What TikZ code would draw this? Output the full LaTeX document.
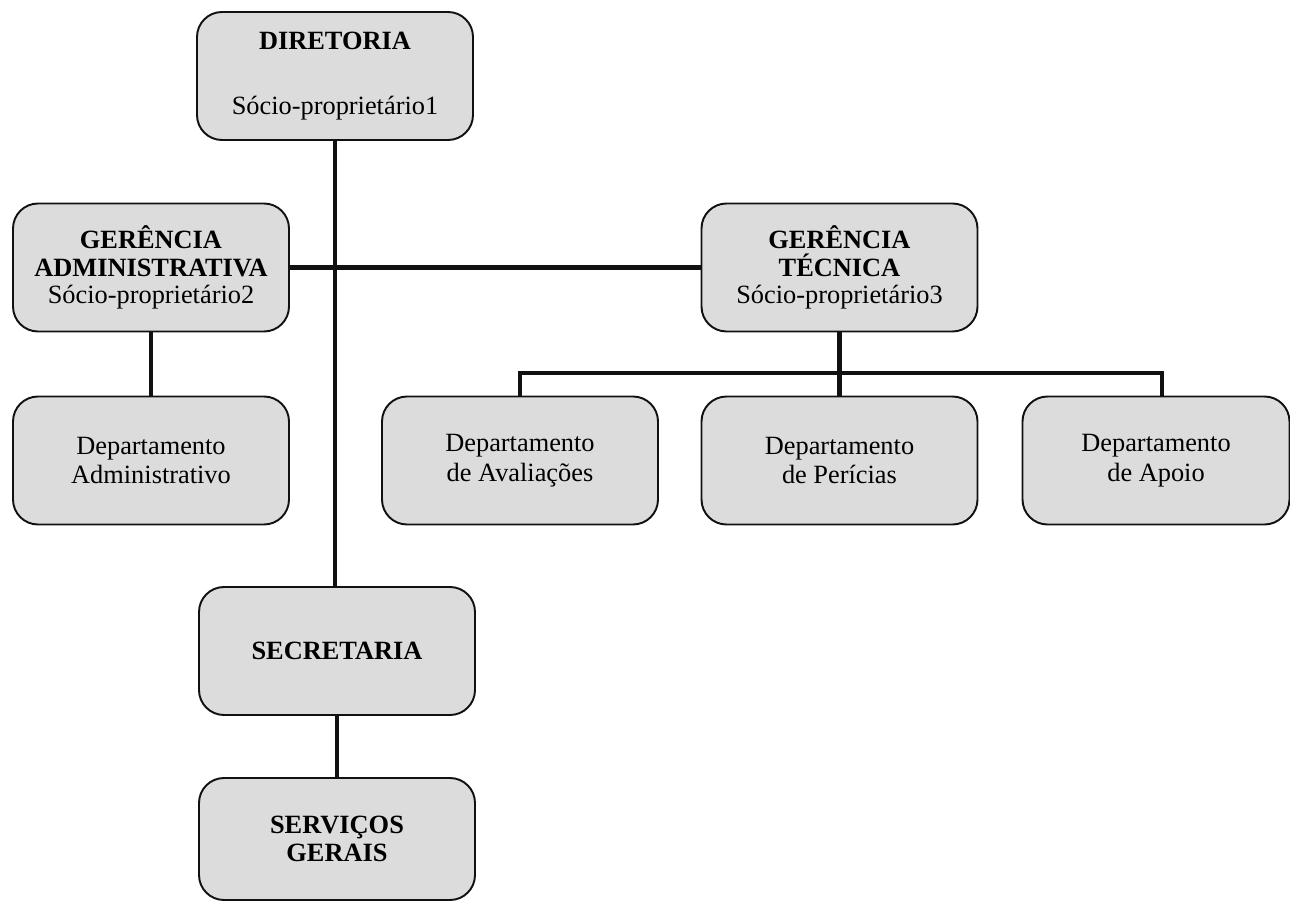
\documentclass[tikz,border=0pt]{standalone}
\usepackage{fontspec}
\setmainfont{Liberation Serif}
\usepackage{tikz}
\usepackage{xcolor}
\usetikzlibrary{positioning,calc}
\definecolor{ink}{HTML}{111111}
\definecolor{boxgray}{HTML}{DCDCDC}
\tikzset{
  orgbox/.style={draw=ink,fill=boxgray,line width=1.1pt,rounded corners=0.5cm,
                 minimum width=5.52cm,minimum height=2.56cm,
                 align=center,inner sep=3pt,
                 font=\fontsize{15pt}{17pt}\selectfont},
  headbox/.style={orgbox,font=\fontsize{15pt}{15.6pt}\selectfont},
  orgline/.style={draw=ink,line width=2.8pt}
}

\begin{document}
\begin{tikzpicture}
      \useasboundingbox (0,0) rectangle (25.8,-18.02);

      % top level
      \node[headbox] (dir) at (6.70,-1.52)
        {\textbf{DIRETORIA}\\[21pt] Sócio-proprietário1};

      % managers
      \node[headbox] (gadm) at (3.02,-5.35)
        {\textbf{GERÊNCIA}\\ \textbf{ADMINISTRATIVA}\\ Sócio-proprietário2};
      \node[headbox] (gtec) at (16.79,-5.35)
        {\textbf{GERÊNCIA}\\ \textbf{TÉCNICA}\\ Sócio-proprietário3};

      % departments
      \node[orgbox] (dadm) at (3.02,-9.21) {Departamento\\ Administrativo};
      \node[orgbox] (daval) at (10.40,-9.21) {Departamento\\ de Avaliações};
      \node[orgbox] (dper) at (16.79,-9.21) {Departamento\\ de Perícias};
      \node[orgbox,minimum width=5.34cm] (dapo) at (23.12,-9.21) {Departamento\\ de Apoio};

      % support
      \node[headbox] (sec) at (6.74,-13.02) {\textbf{SECRETARIA}};
      \node[headbox,minimum height=2.44cm] (serv) at (6.74,-16.78)
        {\textbf{SERVIÇOS}\\ \textbf{GERAIS}};

      \coordinate (bus) at (16.79,-7.46);

      % connectors
      \draw[orgline] (dir.south) -- (dir.south |- sec.north);
      \draw[orgline] (gadm.east) -- (gtec.west);
      \draw[orgline] (gadm.south) -- (dadm.north);
      \draw[orgline] (gtec.south) -- (dper.north);
      \draw[orgline] (daval.north) |- (bus) -| ($(dapo.north)+(0.12,0)$);
      \draw[orgline] (sec.south) -- (serv.north);
    \end{tikzpicture}
\end{document}
